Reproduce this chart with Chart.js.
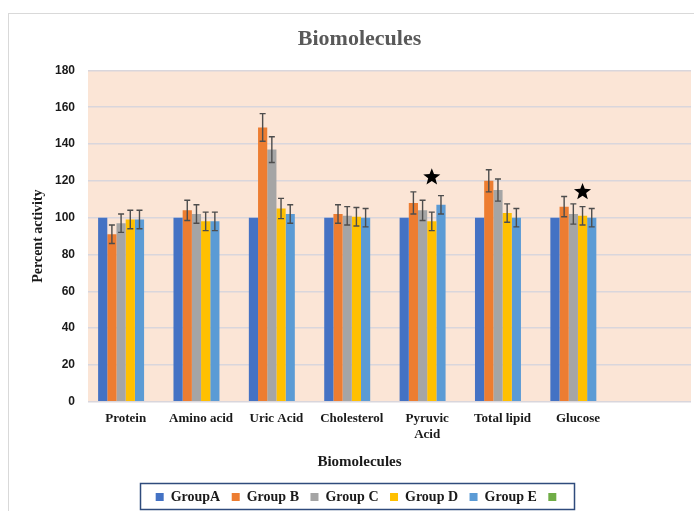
<!DOCTYPE html>
<html lang="en">
<head>
    <meta charset="UTF-8">
    <title>Biomolecules</title>
    <style>
        html, body {
            margin: 0;
            padding: 0;
            background: #ffffff;
        }
        canvas {
            display: block;
        }
    </style>
</head>
<body>
    <canvas id="bioChart" width="694" height="511"></canvas>

    <script src="https://cdn.jsdelivr.net/npm/chart.js"></script>

    <script>
        // data
        const categories = ['Protein', 'Amino acid', 'Uric Acid', 'Cholesterol', ['Pyruvic', 'Acid'], 'Total lipid', 'Glucose', ''];
        const groupA = [100, 100, 100, 100, 100, 100, 100, null];
        const groupB = [91, 104, 149, 102, 108, 120, 106, null];
        const groupC = [97, 102, 137, 101, 104, 115, 102, null];
        const groupD = [99, 98, 105, 100.5, 98, 102.5, 101, null];
        const groupE = [99, 98, 102, 100, 107, 100, 100, null];
        const groupF = [null, null, null, null, null, null, null, null];

        const errB = [5, 5.5, 7.5, 5, 6, 6, 5.5, null];
        const errC = [5, 5, 7, 5, 5.5, 6, 5.5, null];
        const errD = [5, 5, 5.5, 5, 5, 5, 5, null];
        const errE = [5, 5, 5, 5, 5, 5, 5, null];

        // stars sit over Group D
        const starValues = [null, null, null, null, 122, null, 114, null];

        const yTicks = [0, 20, 40, 60, 80, 100, 120, 140, 160, 180];

        const serif = '"Liberation Serif", "Times New Roman", serif';
        const sans = '"Liberation Sans", Arial, sans-serif';

        // peach plot background + light outer frame
        const backgroundPlugin = {
            id: 'backgroundPlugin',
            beforeDraw(chart) {
                const ctx = chart.ctx;
                const a = chart.chartArea;
                ctx.save();
                ctx.strokeStyle = '#d9d9d9';
                ctx.lineWidth = 1;
                ctx.strokeRect(8.5, 13.5, 900, 700);
                ctx.fillStyle = '#fbe5d6';
                ctx.fillRect(a.left, a.top, a.right - a.left, a.bottom - a.top);
                ctx.restore();
            }
        };

        // error bars drawn on top of the bars
        const errorBarPlugin = {
            id: 'errorBarPlugin',
            afterDatasetsDraw(chart) {
                const ctx = chart.ctx;
                const y = chart.scales.y;
                ctx.save();
                ctx.strokeStyle = '#4d4d4d';
                ctx.lineWidth = 1.4;
                chart.data.datasets.forEach((ds, i) => {
                    if (!ds.errors) return;
                    const meta = chart.getDatasetMeta(i);
                    meta.data.forEach((bar, j) => {
                        const v = ds.data[j];
                        const e = ds.errors[j];
                        if (v == null || e == null) return;
                        const top = y.getPixelForValue(v + e);
                        const bot = y.getPixelForValue(v - e);
                        ctx.beginPath();
                        ctx.moveTo(bar.x, top);
                        ctx.lineTo(bar.x, bot);
                        ctx.moveTo(bar.x - 3, top);
                        ctx.lineTo(bar.x + 3, top);
                        ctx.moveTo(bar.x - 3, bot);
                        ctx.lineTo(bar.x + 3, bot);
                        ctx.stroke();
                    });
                });
                ctx.restore();
            }
        };

        // significance stars
        const starPlugin = {
            id: 'starPlugin',
            afterDatasetsDraw(chart) {
                const ctx = chart.ctx;
                const y = chart.scales.y;
                const meta = chart.getDatasetMeta(3);
                ctx.save();
                ctx.fillStyle = '#000';
                starValues.forEach((v, j) => {
                    if (v == null) return;
                    const cx = meta.data[j].x;
                    const cy = y.getPixelForValue(v);
                    const R = 9, r = 3.8;
                    ctx.beginPath();
                    for (let k = 0; k < 10; k++) {
                        const rad = k % 2 === 0 ? R : r;
                        const ang = -Math.PI / 2 + k * Math.PI / 5;
                        const px = cx + rad * Math.cos(ang);
                        const py = cy + rad * Math.sin(ang);
                        if (k === 0) ctx.moveTo(px, py); else ctx.lineTo(px, py);
                    }
                    ctx.closePath();
                    ctx.fill();
                });
                ctx.restore();
            }
        };

        // box round the legend
        const legendBoxPlugin = {
            id: 'legendBoxPlugin',
            afterDraw(chart) {
                const boxes = chart.legend.legendHitBoxes;
                if (!boxes || !boxes.length) return;
                const left = Math.min(...boxes.map(b => b.left));
                const right = Math.max(...boxes.map(b => b.left + b.width));
                const mid = boxes[0].top + boxes[0].height / 2;
                const ctx = chart.ctx;
                ctx.save();
                ctx.strokeStyle = '#2f4b7c';
                ctx.lineWidth = 1.5;
                ctx.strokeRect(Math.round(left - 16) + 0.5, Math.round(mid - 14) + 0.5,
                    Math.round(right - left + 26), 26);
                ctx.restore();
            }
        };

        function makeSet(label, data, color, errors) {
            return {
                label: label,
                data: data,
                backgroundColor: color,
                borderWidth: 0,
                categoryPercentage: 0.732,
                barPercentage: 1.0,
                errors: errors
            };
        }

        const ctx = document.getElementById('bioChart').getContext('2d');
        new Chart(ctx, {
            type: 'bar',
            data: {
                labels: categories,
                datasets: [
                    makeSet('GroupA', groupA, '#4472c4', null),
                    makeSet('Group B', groupB, '#ed7d31', errB),
                    makeSet('Group C', groupC, '#a5a5a5', errC),
                    makeSet('Group D', groupD, '#ffc000', errD),
                    makeSet('Group E', groupE, '#5b9bd5', errE),
                    makeSet('', groupF, '#70ad47', null)
                ]
            },
            options: {
                responsive: false,
                animation: false,
                devicePixelRatio: 1,
                layout: {
                    padding: { left: 28, right: 3, top: 0, bottom: -3 }
                },
                plugins: {
                    title: {
                        display: true,
                        text: 'Biomolecules',
                        color: '#595959',
                        font: { family: serif, size: 22, weight: 'bold' },
                        padding: { top: 26, bottom: 18 }
                    },
                    subtitle: {
                        display: true,
                        text: 'Biomolecules',
                        position: 'bottom',
                        weight: 500,
                        color: '#1a1a1a',
                        font: { family: serif, size: 15, weight: 'bold' },
                        padding: { top: 2, bottom: 7.5 }
                    },
                    legend: {
                        position: 'bottom',
                        labels: {
                            boxWidth: 8,
                            boxHeight: 8,
                            padding: 11.5,
                            color: '#1a1a1a',
                            font: { family: serif, size: 14, weight: 'bold' }
                        }
                    },
                    tooltip: { enabled: false }
                },
                scales: {
                    x: {
                        grid: { display: false, drawTicks: false },
                        border: { display: false },
                        ticks: {
                            color: '#1a1a1a',
                            font: { family: serif, size: 13, weight: 'bold' },
                            maxRotation: 0,
                            autoSkip: false,
                            padding: 9
                        }
                    },
                    y: {
                        min: 0,
                        max: 180,
                        afterFit(scale) { scale.width = 60; },
                        afterBuildTicks(scale) { scale.ticks = yTicks.map(v => ({ value: v })); },
                        grid: { color: '#d9d6dc', lineWidth: 1.5, drawTicks: false },
                        border: { display: false },
                        ticks: {
                            color: '#1a1a1a',
                            font: { family: sans, size: 12, weight: 'bold' },
                            padding: 13
                        },
                        title: {
                            display: true,
                            text: 'Percent activity',
                            color: '#1a1a1a',
                            font: { family: serif, size: 14, weight: 'bold' },
                            padding: { top: 2, bottom: 5 }
                        }
                    }
                }
            },
            plugins: [backgroundPlugin, errorBarPlugin, starPlugin, legendBoxPlugin]
        });
    </script>
</body>
</html>
